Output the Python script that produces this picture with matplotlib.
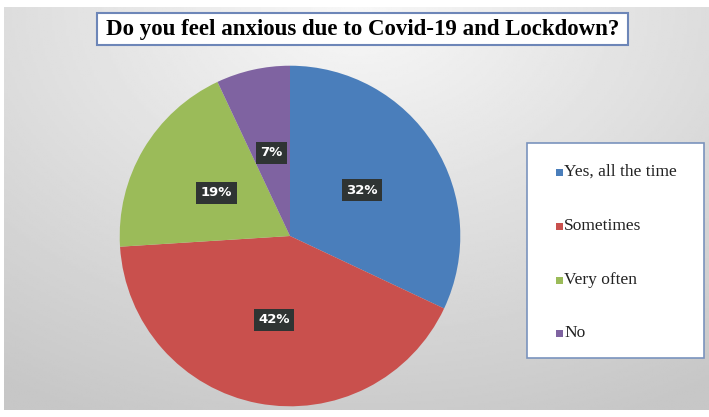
import numpy as np
import matplotlib.pyplot as plt
from matplotlib.patches import Rectangle

labels = ["Yes, all the time", "Sometimes", "Very often", "No"]
shares = [32, 42, 19, 7]
colors = ["#4a7ebb", "#c9504d", "#9bbb59", "#7f63a1"]
title = "Do you feel anxious due to Covid-19 and Lockdown?"

fig = plt.figure(figsize=(7.09, 4.17), dpi=100)
fig.patch.set_facecolor("white")

# grey gradient background
bg = fig.add_axes([0.006, 0.017, 0.994, 0.966])
yy, xx = np.mgrid[0:1:200j, 0:1:300j]
d = np.sqrt(((xx - 0.5) * 1.1) ** 2 + (yy * 0.9) ** 2)
shade = 0.97 - 0.19 * np.clip(d, 0, 1)
bg.imshow(shade, cmap="gray", vmin=0, vmax=1, aspect="auto", extent=[0, 1, 1, 0])
bg.set_axis_off()

# pie
ax = fig.add_axes([(290 - 172) / 709, 1 - (236 + 172) / 417, 344 / 709, 344 / 417])
wedges, _, autotexts = ax.pie(shares, colors=colors, startangle=90, counterclock=False,
                              autopct="%d%%", pctdistance=0.5, radius=1.0,
                              wedgeprops=dict(linewidth=0))
for t in autotexts:
    t.set_color("white")
    t.set_fontsize(9.5)
    t.set_fontweight("bold")
    t.set_bbox(dict(facecolor="#2f3433", edgecolor="none", boxstyle="square,pad=0.35"))
ax.set_xlim(-1.01, 1.01)
ax.set_ylim(-1.01, 1.01)
ax.set_aspect("equal")

# title box
fig.patches.append(Rectangle((97 / 709, 1 - 45 / 417), 531 / 709, 32 / 417,
                             transform=fig.transFigure, facecolor="white",
                             edgecolor="#6d86b8", linewidth=1.5))
fig.text(363 / 709, 1 - 29 / 417, title, ha="center", va="center",
         fontsize=16.5, fontweight="bold", family="Liberation Serif")

# legend
fig.patches.append(Rectangle((527 / 709, 1 - 358 / 417), 177 / 709, 215 / 417,
                             transform=fig.transFigure, facecolor="white",
                             edgecolor="#7a93bd", linewidth=1.2))
ys = [172, 226, 280, 333]
for lab, col, y in zip(labels, colors, ys):
    fig.patches.append(Rectangle((556 / 709, 1 - (y + 3.5) / 417), 7 / 709, 7 / 417,
                                 transform=fig.transFigure, facecolor=col, edgecolor="none"))
    fig.text(564 / 709, 1 - y / 417, lab, ha="left", va="center",
             fontsize=12.5, family="Liberation Serif", color="#222222")

fig.savefig("out.png", dpi=100)
